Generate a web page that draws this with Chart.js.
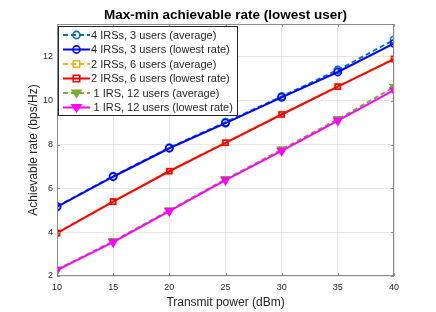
<!DOCTYPE html>
<html>
<head>
<meta charset="utf-8">
<script src="https://cdn.jsdelivr.net/npm/chart.js@4.4.1/dist/chart.umd.min.js"></script>
<style>
  html, body { margin: 0; padding: 0; background: #ffffff; }
  #wrap { width: 436px; height: 312px; }
</style>
</head>
<body>
<div id="wrap"><canvas id="rateChart" width="436" height="312"></canvas></div>
<script>
/* ================= DATA ================= */
const powers = [10, 15, 20, 25, 30, 35, 40];
const xTicks = [10, 15, 20, 25, 30, 35, 40];
const yTicks = [2, 4, 6, 8, 10, 12];

const irs4Avg = [5.18, 6.56, 7.86, 9.02, 10.20, 11.40, 12.78];
const irs4Low = [5.15, 6.53, 7.83, 8.98, 10.15, 11.31, 12.62];
const irs2Avg = [3.98, 5.41, 6.80, 8.10, 9.39, 10.66, 11.92];
const irs2Low = [3.96, 5.39, 6.78, 8.08, 9.37, 10.64, 11.90];
const irs1Avg = [2.30, 3.59, 5.00, 6.42, 7.78, 9.16, 10.62];
const irs1Low = [2.27, 3.55, 4.96, 6.38, 7.71, 9.09, 10.48];

const labels = [
  "4 IRSs, 3 users (average)",
  "4 IRSs, 3 users (lowest rate)",
  "2 IRSs, 6 users (average)",
  "2 IRSs, 6 users (lowest rate)",
  "1 IRS, 12 users (average)",
  "1 IRS, 12 users (lowest rate)"
];

const FONT = "'Liberation Sans', Arial, Helvetica, sans-serif";
const TEXT = "#262626";

function toPoints(values) {
  return powers.map((p, i) => ({ x: p, y: values[i] }));
}

function series(idx, values, color, style, dashed, filled) {
  return {
    label: labels[idx],
    data: toPoints(values),
    order: labels.length - 1 - idx,   // later series drawn on top, like MATLAB
    borderColor: color,
    backgroundColor: filled ? color : "rgba(255,255,255,0)",
    borderWidth: dashed ? 1.8 : 2,
    borderDash: dashed ? [5, 3] : [],
    pointStyle: style,
    pointRotation: style === "triangle" ? 180 : 0,
    pointRadius: style === "triangle" ? 4.5 : 3.6,
    pointBorderWidth: 1.6,
    pointBackgroundColor: filled ? color : "rgba(255,255,255,0)",
    pointBorderColor: color,
    tension: 0,
    fill: false
  };
}

const datasets = [
  series(0, irs4Avg, "#0072BD", "circle", true, false),
  series(1, irs4Low, "#0000FF", "circle", false, false),
  series(2, irs2Avg, "#EDB120", "rect", true, false),
  series(3, irs2Low, "#FF0000", "rect", false, false),
  series(4, irs1Avg, "#77AC30", "triangle", true, true),
  series(5, irs1Low, "#FF00FF", "triangle", false, true)
];

/* ================= MARKER ================= */
function drawMarker(ctx, ds, x, y) {
  const r = ds.pointRadius;
  ctx.save();
  ctx.setLineDash([]);
  ctx.lineWidth = ds.pointBorderWidth;
  ctx.strokeStyle = ds.pointBorderColor;
  ctx.fillStyle = ds.pointBackgroundColor;
  ctx.beginPath();
  if (ds.pointStyle === "circle") {
    ctx.arc(x, y, r, 0, Math.PI * 2);
  } else if (ds.pointStyle === "rect") {
    const s = r * 0.9;
    ctx.rect(x - s, y - s, s * 2, s * 2);
  } else {
    ctx.moveTo(x - r, y - r * 0.6);
    ctx.lineTo(x + r, y - r * 0.6);
    ctx.lineTo(x, y + r * 0.9);
    ctx.closePath();
  }
  ctx.fill();
  ctx.stroke();
  ctx.restore();
}

/* ================= FRAME, TITLE, LEGEND ================= */
const framePlugin = {
  id: "frame",
  afterDraw(chart) {
    const ctx = chart.ctx;
    const a = chart.chartArea;

    // box + inward ticks
    ctx.save();
    ctx.strokeStyle = "#8c8c8c";
    ctx.lineWidth = 1;
    ctx.strokeRect(a.left + 0.5, a.top + 0.5, a.right - a.left - 1, a.bottom - a.top - 1);
    ctx.beginPath();
    xTicks.forEach(v => {
      const px = Math.round(chart.scales.x.getPixelForValue(v)) + 0.5;
      ctx.moveTo(px, a.bottom); ctx.lineTo(px, a.bottom - 3);
      ctx.moveTo(px, a.top); ctx.lineTo(px, a.top + 3);
    });
    yTicks.forEach(v => {
      const py = Math.round(chart.scales.y.getPixelForValue(v)) + 0.5;
      ctx.moveTo(a.left, py); ctx.lineTo(a.left + 3, py);
      ctx.moveTo(a.right, py); ctx.lineTo(a.right - 3, py);
    });
    ctx.stroke();
    ctx.restore();

    // title
    ctx.save();
    ctx.fillStyle = "#000000";
    ctx.font = "bold 13.5px " + FONT;
    ctx.textAlign = "center";
    ctx.textBaseline = "middle";
    ctx.fillText("Max-min achievable rate (lowest user)", (a.left + a.right) / 2, 15);
    ctx.restore();

    // legend
    const lx = 58, ly = 26, lw = 179, rowH = 14.5;
    ctx.save();
    ctx.fillStyle = "#ffffff";
    ctx.fillRect(lx, ly, lw, rowH * datasets.length + 2);
    ctx.strokeStyle = "#262626";
    ctx.lineWidth = 1;
    ctx.strokeRect(lx + 0.5, ly + 0.5, lw, rowH * datasets.length + 2);
    ctx.font = "11px " + FONT;
    ctx.textBaseline = "middle";
    ctx.textAlign = "left";
    datasets.forEach((ds, i) => {
      const y = ly + 9 + i * rowH;
      ctx.beginPath();
      ctx.setLineDash(ds.borderDash);
      ctx.strokeStyle = ds.borderColor;
      ctx.lineWidth = ds.borderWidth;
      ctx.moveTo(lx + 5, y);
      ctx.lineTo(lx + 32, y);
      ctx.stroke();
      ctx.setLineDash([]);
      drawMarker(ctx, ds, lx + 18.5, y);
      ctx.fillStyle = TEXT;
      ctx.fillText(ds.label, lx + (i >= 4 ? 35.5 : 33), y + 0.5);
    });
    ctx.restore();
  }
};

/* ================= CHART ================= */
const ctx = document.getElementById("rateChart").getContext("2d");

new Chart(ctx, {
  type: "line",
  data: { datasets: datasets },
  options: {
    responsive: false,
    animation: false,
    layout: {
      padding: { top: 24, right: 42, bottom: 0, left: 0 }
    },
    plugins: {
      legend: { display: false },
      title: { display: false },
      tooltip: { enabled: false }
    },
    scales: {
      x: {
        type: "linear",
        min: 10,
        max: 40,
        afterBuildTicks: scale => { scale.ticks = xTicks.map(v => ({ value: v })); },
        afterFit: scale => { scale.height = 36; },
        grid: { color: "#e6e6e6", drawTicks: false },
        border: { display: false },
        ticks: {
          color: TEXT,
          padding: 6,
          maxRotation: 0,
          font: { family: FONT, size: 9 }
        },
        title: {
          display: true,
          text: "Transmit power (dBm)",
          color: TEXT,
          padding: { top: 0, bottom: 2 },
          font: { family: FONT, size: 12 }
        }
      },
      y: {
        type: "linear",
        min: 2,
        max: 13.5,
        afterBuildTicks: scale => { scale.ticks = yTicks.map(v => ({ value: v })); },
        afterFit: scale => { scale.width = 57; },
        grid: { color: "#e6e6e6", drawTicks: false },
        border: { display: false },
        ticks: {
          color: TEXT,
          padding: 4,
          font: { family: FONT, size: 9 }
        },
        title: {
          display: true,
          text: "Achievable rate (bps/Hz)",
          color: TEXT,
          padding: { top: 26, bottom: 0 },
          font: { family: FONT, size: 12 }
        }
      }
    }
  },
  plugins: [framePlugin]
});
</script>
</body>
</html>
